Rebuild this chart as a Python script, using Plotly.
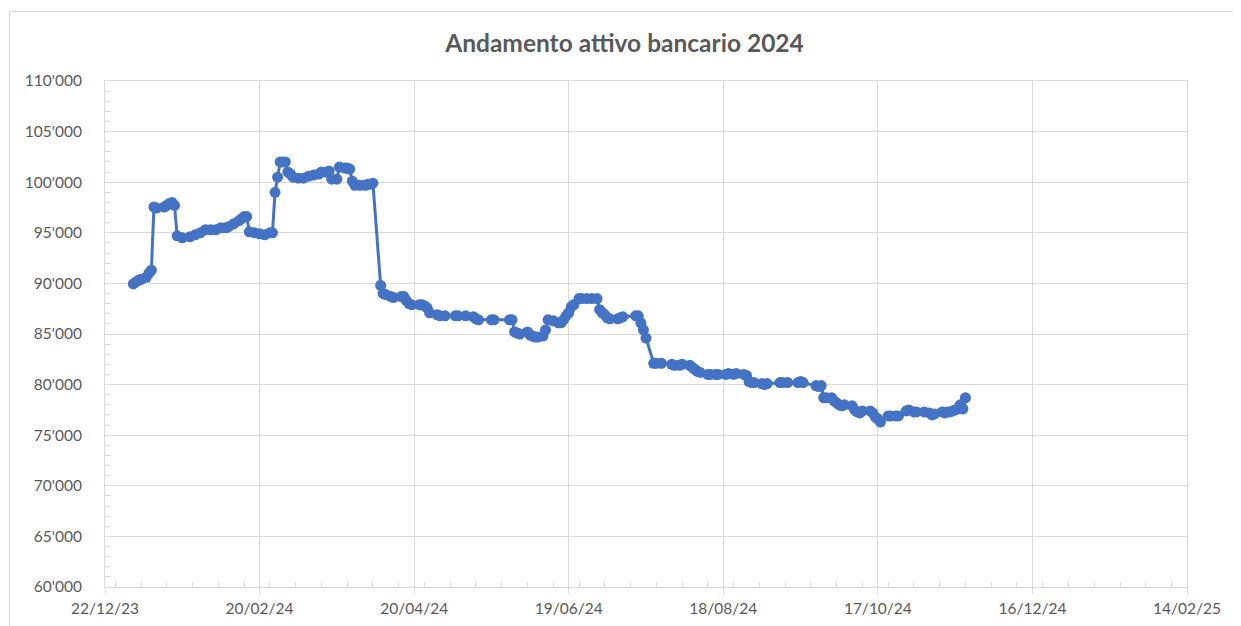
import plotly.graph_objects as go

# daily balance (date, value)
dates = [
    '2024-01-02', '2024-01-03', '2024-01-04', '2024-01-05', '2024-01-07', '2024-01-08', '2024-01-09',
    '2024-01-10', '2024-01-11', '2024-01-14', '2024-01-15', '2024-01-16', '2024-01-17', '2024-01-18',
    '2024-01-19', '2024-01-21', '2024-01-24', '2024-01-26', '2024-01-28', '2024-01-30', '2024-02-01',
    '2024-02-03', '2024-02-05', '2024-02-07', '2024-02-08', '2024-02-10', '2024-02-12', '2024-02-13',
    '2024-02-14', '2024-02-15', '2024-02-16', '2024-02-18', '2024-02-20', '2024-02-22', '2024-02-24',
    '2024-02-25', '2024-02-26', '2024-02-27', '2024-02-28', '2024-02-29', '2024-03-01', '2024-03-02',
    '2024-03-03', '2024-03-04', '2024-03-06', '2024-03-08', '2024-03-10', '2024-03-12', '2024-03-14',
    '2024-03-15', '2024-03-17', '2024-03-18', '2024-03-19', '2024-03-21', '2024-03-22', '2024-03-24',
    '2024-03-25', '2024-03-26', '2024-03-27', '2024-03-28', '2024-03-30', '2024-04-01', '2024-04-02',
    '2024-04-03', '2024-04-04', '2024-04-07', '2024-04-08', '2024-04-09', '2024-04-11', '2024-04-12',
    '2024-04-15', '2024-04-16', '2024-04-17', '2024-04-18', '2024-04-19', '2024-04-22', '2024-04-23',
    '2024-04-24', '2024-04-25', '2024-04-26', '2024-04-29', '2024-04-30', '2024-05-02', '2024-05-06',
    '2024-05-07', '2024-05-10', '2024-05-13', '2024-05-14', '2024-05-15', '2024-05-20', '2024-05-21',
    '2024-05-27', '2024-05-28', '2024-05-29', '2024-05-30', '2024-05-31', '2024-06-03', '2024-06-04',
    '2024-06-05', '2024-06-06', '2024-06-07', '2024-06-09', '2024-06-10', '2024-06-11', '2024-06-13',
    '2024-06-15', '2024-06-16', '2024-06-17', '2024-06-18', '2024-06-19', '2024-06-20', '2024-06-21',
    '2024-06-23', '2024-06-24', '2024-06-26', '2024-06-28', '2024-06-30', '2024-07-01', '2024-07-02',
    '2024-07-03', '2024-07-04', '2024-07-05', '2024-07-08', '2024-07-09', '2024-07-10', '2024-07-15',
    '2024-07-16', '2024-07-17', '2024-07-18', '2024-07-19', '2024-07-22', '2024-07-23', '2024-07-25',
    '2024-07-29', '2024-07-30', '2024-08-01', '2024-08-02', '2024-08-05', '2024-08-06', '2024-08-07',
    '2024-08-08', '2024-08-09', '2024-08-12', '2024-08-13', '2024-08-15', '2024-08-16', '2024-08-19',
    '2024-08-20', '2024-08-22', '2024-08-23', '2024-08-26', '2024-08-27', '2024-08-28', '2024-08-29',
    '2024-08-30', '2024-09-02', '2024-09-03', '2024-09-04', '2024-09-09', '2024-09-10', '2024-09-12',
    '2024-09-16', '2024-09-17', '2024-09-18', '2024-09-23', '2024-09-24', '2024-09-25', '2024-09-26',
    '2024-09-27', '2024-09-29', '2024-09-30', '2024-10-01', '2024-10-02', '2024-10-03', '2024-10-04',
    '2024-10-07', '2024-10-08', '2024-10-09', '2024-10-10', '2024-10-11', '2024-10-14', '2024-10-15',
    '2024-10-16', '2024-10-17', '2024-10-18', '2024-10-21', '2024-10-22', '2024-10-24', '2024-10-25',
    '2024-10-28', '2024-10-29', '2024-10-31', '2024-11-01', '2024-11-04', '2024-11-06', '2024-11-07',
    '2024-11-08', '2024-11-11', '2024-11-12', '2024-11-13', '2024-11-14', '2024-11-15', '2024-11-16',
    '2024-11-17', '2024-11-18', '2024-11-19', '2024-11-20',
]
values = [
    89950, 90150, 90300, 90400, 90600, 91000, 91300,
    97550, 97450, 97550, 97700, 97900, 98000, 97700,
    94700, 94500, 94600, 94800, 95000, 95300, 95300,
    95300, 95500, 95500, 95600, 95900, 96200, 96400,
    96600, 96600, 95100, 95000, 94900, 94800, 95000,
    95000, 99000, 100500, 102000, 102000, 102000, 101000,
    100800, 100500, 100400, 100400, 100600, 100700, 100800,
    101000, 101000, 101100, 100300, 100300, 101500, 101400,
    101400, 101300, 100100, 99700, 99700, 99700, 99800,
    99800, 99900, 89800, 89000, 88900, 88700, 88600,
    88700, 88700, 88300, 88000, 87900, 87900, 87900,
    87800, 87600, 87100, 86900, 86800, 86800, 86800,
    86800, 86800, 86700, 86500, 86400, 86400, 86400,
    86400, 86400, 85200, 85100, 85000, 85200, 84900,
    84800, 84700, 84700, 84800, 85400, 86400, 86300,
    86100, 86100, 86400, 86800, 87100, 87700, 87900,
    88500, 88500, 88500, 88500, 88500, 87400, 87100,
    86900, 86600, 86500, 86500, 86600, 86700, 86800,
    86800, 86100, 85400, 84600, 82100, 82100, 82100,
    82000, 81900, 81900, 82000, 81900, 81700, 81500,
    81300, 81200, 81000, 81000, 81000, 81000, 81000,
    81100, 81000, 81100, 81000, 80900, 80300, 80200,
    80200, 80100, 80000, 80100, 80200, 80200, 80200,
    80200, 80300, 80200, 79900, 79800, 79900, 78700,
    78700, 78700, 78400, 78200, 78000, 77900, 78000,
    77900, 77500, 77300, 77200, 77400, 77400, 77200,
    76800, 76600, 76300, 76900, 76900, 76900, 76900,
    77400, 77500, 77300, 77300, 77300, 77200, 77000,
    77100, 77300, 77200, 77300, 77300, 77400, 77500,
    77600, 78000, 77600, 78700,
]

title = 'Andamento attivo bancario 2024'
x_range = ['2023-12-22', '2025-02-14']
y_range = [60000, 110000]

DAY_MS = 86400000
blue = '#4472C4'
grid = '#d9d9d9'
text_col = '#595959'

fig = go.Figure()
fig.add_trace(
    go.Scatter(
        x=dates,
        y=values,
        mode='lines+markers',
        line=dict(color=blue, width=3),
        marker=dict(color=blue, size=11),
        showlegend=False,
    )
)

# outer chart border like the excel chart area
fig.add_shape(
    type='rect', xref='paper', yref='paper',
    x0=-0.0883, x1=1.0471, y0=-0.12, y1=1.1374,
    line=dict(color=grid, width=1), layer='below',
)

# page body has an 8px margin, so the figure is 8px smaller each way
fig.update_layout(
    width=1233,
    height=618,
    margin=dict(l=97, r=54, t=73, b=39),
    paper_bgcolor='white',
    plot_bgcolor='white',
    separators=".'",
    font=dict(family='Lato, Liberation Sans, sans-serif', size=15.5, color=text_col),
    title=dict(
        text=title,
        x=0.5, xanchor='center',
        y=1 - 35 / 618, yanchor='middle', yref='container',
        font=dict(family='Lato, Liberation Sans, sans-serif', size=24.5, color=text_col, weight='bold'),
    ),
    xaxis=dict(
        type='date',
        range=x_range,
        tick0='2023-12-22',
        dtick=60 * DAY_MS,
        tickformat='%d/%m/%y',
        showgrid=True, gridcolor=grid, gridwidth=1,
        showline=True, linecolor=grid, linewidth=1, mirror=True,
        ticks='outside', ticklen=6, tickcolor=grid,
        minor=dict(dtick=10 * DAY_MS, ticks='inside', ticklen=5, tickcolor=grid, showgrid=False),
        ticklabelstandoff=1,
        zeroline=False,
        automargin=False,
    ),
    yaxis=dict(
        range=y_range,
        dtick=5000,
        tickformat=',d',
        showgrid=True, gridcolor=grid, gridwidth=1,
        showline=True, linecolor=grid, linewidth=1, mirror=True,
        ticks='',
        minor=dict(dtick=1000, ticks='inside', ticklen=5, tickcolor=grid, showgrid=False),
        ticklabelstandoff=19,
        zeroline=False,
        automargin=False,
    ),
)

fig.write_html('out.html')
